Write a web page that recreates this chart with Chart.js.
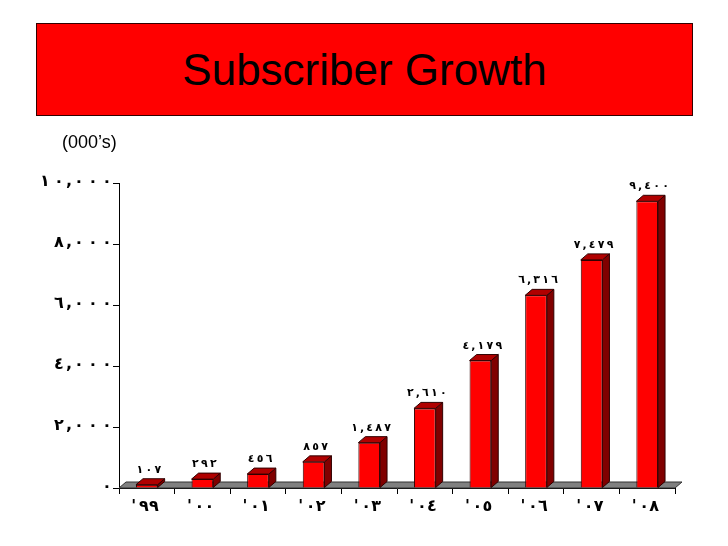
<!DOCTYPE html>
<html>
<head>
<meta charset="utf-8">
<script src="https://cdn.jsdelivr.net/npm/chart.js@4/dist/chart.umd.min.js"></script>
<style>
    body { margin: 0; background: #fff; }
    #wrap { position: relative; width: 728px; height: 546px; }
    #titel {
        position: absolute; left: 36px; top: 23px; width: 655px; height: 91px;
        background: #ff0000; border: 1px solid #300;
        display: flex; align-items: center; justify-content: center;
        font-family: 'Liberation Sans', Arial, sans-serif; font-size: 44px; color: #000;
    }
    #eenheid {
        position: absolute; left: 62px; top: 132px;
        font-family: 'Liberation Sans', Arial, sans-serif; font-size: 18px; color: #000;
    }
</style>
</head>
<body>
<div id="wrap">
    <canvas id="myChart" width="728" height="546"></canvas>
    <div id="titel">Subscriber Growth</div>
    <div id="eenheid">(000’s)</div>
</div>
<script>
const years = ["'٩٩", "'٠٠", "'٠١", "'٠٢", "'٠٣", "'٠٤", "'٠٥", "'٠٦", "'٠٧", "'٠٨"];
const subscribers = [107, 292, 456, 857, 1487, 2610, 4179, 6316, 7479, 9400];
const yMax = 10000;
const yStep = 2000;

const arabicDigits = '٠١٢٣٤٥٦٧٨٩';
function toArabic(n) {
    return n.toLocaleString('en-US').replace(/\d/g, d => arabicDigits[d]);
}

// tekst met vaste breedte per teken (de cijfers staan wijd uit elkaar in het origineel)
function drawSpaced(ctx, text, x, y, align, step, commaStep) {
    let chars = Array.from(text);
    let widths = chars.map(c => c === ',' ? commaStep : step);
    let total = widths.reduce((a, b) => a + b, 0);
    let start = x;
    if (align === 'center') start = x - total / 2;
    if (align === 'right') start = x - total;
    ctx.textAlign = 'center';
    chars.forEach((c, i) => {
        ctx.fillText(c, start + widths[i] / 2, y);
        start += widths[i];
    });
}

// diepte van de 3D balken
const dx = 7;
const dy = 6;

const floorPlugin = {
    id: 'floor',
    beforeDatasetsDraw(chart) {
        let ctx = chart.ctx;
        let area = chart.chartArea;
        let y0 = chart.scales.y.getPixelForValue(0);
        ctx.save();
        ctx.beginPath();
        ctx.moveTo(area.left, y0);
        ctx.lineTo(area.right, y0);
        ctx.lineTo(area.right + dx, y0 - dy);
        ctx.lineTo(area.left + dx, y0 - dy);
        ctx.closePath();
        ctx.fillStyle = '#808080';
        ctx.fill();
        ctx.strokeStyle = '#333';
        ctx.lineWidth = 1;
        ctx.stroke();
        ctx.restore();
    }
};

const bars3dPlugin = {
    id: 'bars3d',
    afterDatasetsDraw(chart) {
        let ctx = chart.ctx;
        let meta = chart.getDatasetMeta(0);
        ctx.save();
        ctx.lineWidth = 1;
        ctx.strokeStyle = '#300000';
        meta.data.forEach((bar, i) => {
            let left = bar.x - bar.width / 2;
            let right = bar.x + bar.width / 2;
            let top = bar.y;
            let base = bar.base;

            // zijkant
            ctx.beginPath();
            ctx.moveTo(right, top);
            ctx.lineTo(right + dx, top - dy);
            ctx.lineTo(right + dx, base - dy);
            ctx.lineTo(right, base);
            ctx.closePath();
            ctx.fillStyle = '#800000';
            ctx.fill();
            ctx.stroke();

            // bovenkant
            ctx.beginPath();
            ctx.moveTo(left, top);
            ctx.lineTo(left + dx, top - dy);
            ctx.lineTo(right + dx, top - dy);
            ctx.lineTo(right, top);
            ctx.closePath();
            ctx.fillStyle = '#b00000';
            ctx.fill();
            ctx.stroke();

            // waarde boven de balk
            ctx.fillStyle = '#000';
            ctx.font = "bold 11px 'DejaVu Sans'";
            ctx.textBaseline = 'alphabetic';
            drawSpaced(ctx, toArabic(subscribers[i]), bar.x + 2, top - dy - 6, 'center', 9, 6);
        });
        ctx.restore();
    }
};

// as-labels zelf tekenen op de posities van de schalen
const tickLabelsPlugin = {
    id: 'tickLabels',
    afterDraw(chart) {
        let ctx = chart.ctx;
        let xScale = chart.scales.x;
        let yScale = chart.scales.y;
        ctx.save();
        ctx.fillStyle = '#000';
        ctx.font = "bold 16px 'DejaVu Sans'";
        ctx.textBaseline = 'middle';

        yScale.ticks.forEach((tick, i) => {
            let y = yScale.getPixelForTick(i);
            drawSpaced(ctx, toArabic(tick.value), chart.chartArea.left - 5, y - 1, 'right', 14, 6);
        });

        xScale.ticks.forEach((tick, i) => {
            let x = xScale.getPixelForTick(i);
            drawSpaced(ctx, years[i], x - 3, chart.chartArea.bottom + 19, 'center', 10, 6);
        });
        ctx.restore();
    }
};

let ctx = document.getElementById('myChart');

let myChart = new Chart(ctx, {
    type: 'bar',
    data: {
        labels: years,
        datasets: [{
            data: subscribers,
            backgroundColor: '#ff0000',
            borderColor: '#300000',
            borderWidth: 1,
            categoryPercentage: 1,
            barPercentage: 0.39
        }]
    },
    options: {
        responsive: false,
        animation: false,
        layout: {
            padding: { left: 0, right: 53, top: 183, bottom: 18 }
        },
        plugins: {
            legend: { display: false },
            tooltip: { enabled: false }
        },
        scales: {
            x: {
                afterFit: scale => { scale.height = 40; },
                grid: {
                    drawOnChartArea: false,
                    tickLength: 6,
                    color: '#000',
                    offset: true
                },
                border: { display: true, color: '#000', width: 1 },
                ticks: { display: false }
            },
            y: {
                min: 0,
                max: yMax,
                afterFit: scale => { scale.width = 119; },
                grid: {
                    drawOnChartArea: false,
                    tickLength: 6,
                    color: '#000'
                },
                border: { display: true, color: '#000', width: 1 },
                ticks: { display: false, stepSize: yStep }
            }
        }
    },
    plugins: [floorPlugin, bars3dPlugin, tickLabelsPlugin]
});
</script>
</body>
</html>
